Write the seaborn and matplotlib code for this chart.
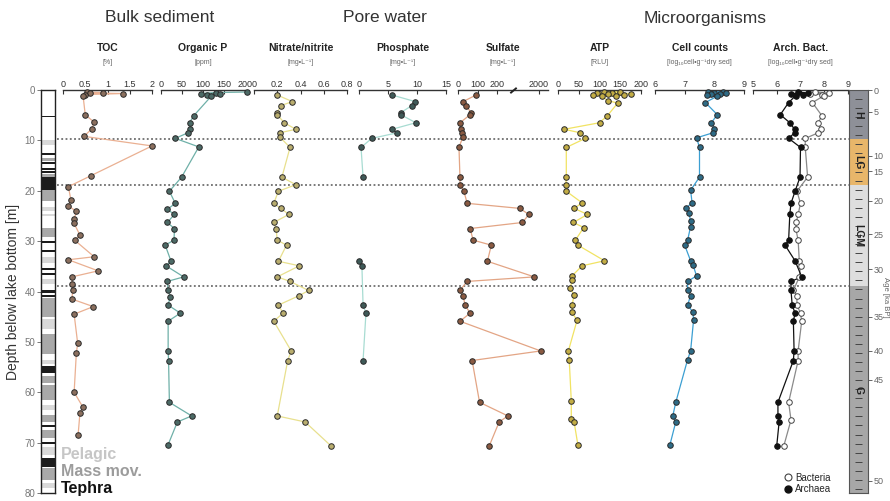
"""Multi-proxy depth profiles of a lake sediment core."""

import matplotlib

matplotlib.use('Agg')

import matplotlib.pyplot as plt
import numpy as np
import pandas as pd
import seaborn as sns
from matplotlib.lines import Line2D
from matplotlib.ticker import FixedLocator, MultipleLocator

# ---------------------------------------------------------------- data
toc_depth = [0.4, 0.5, 0.6, 0.7, 0.9, 1.1, 4.9, 6.4, 7.7, 9.2, 11.1, 17.0, 19.2, 21.9,
             23.0, 24.1, 25.7, 26.5, 28.8, 29.8, 33.1, 33.7, 35.9, 37.1, 38.6, 39.7,
             41.5, 43.0, 44.5, 50.3, 52.2, 60.0, 63.0, 64.2, 68.4]
toc_val = [0.55, 0.9, 0.6, 1.35, 0.5, 0.45, 0.5, 0.7, 0.65, 0.47, 2.0, 0.63, 0.12, 0.18,
           0.12, 0.3, 0.25, 0.25, 0.38, 0.26, 0.7, 0.12, 0.79, 0.2, 0.2, 0.22,
           0.2, 0.68, 0.25, 0.33, 0.3, 0.25, 0.45, 0.38, 0.34]

orgp_depth = [0.4, 0.5, 0.7, 0.8, 1.0, 1.2, 5.1, 6.5, 7.7, 8.5, 9.6, 11.3, 17.3, 20.1,
              22.5, 23.7, 24.7, 26.3, 27.5, 29.8, 30.8, 34.0, 34.9, 37.1, 38.0, 39.8,
              41.0, 42.7, 44.3, 45.9, 51.8, 53.7, 62.0, 64.7, 65.9, 70.4]
orgp_val = [205, 130, 95, 140, 110, 120, 78, 68, 70, 64, 34, 90, 49, 20,
            34, 15, 32, 15, 32, 31, 10, 24, 12, 54, 15, 17,
            22, 17, 46, 17, 17, 18, 20, 73, 39, 17]

nit_depth = [1.0, 2.3, 3.1, 4.5, 4.9, 6.5, 7.8, 8.5, 9.3, 11.4, 17.3, 18.8, 20.1, 22.5,
             23.5, 24.7, 26.3, 27.5, 29.8, 30.8, 34.0, 34.9, 37.1, 38.0, 39.8, 40.8,
             42.7, 44.3, 45.9, 51.8, 53.7, 64.7, 65.9, 70.6]
nit_val = [0.2, 0.33, 0.23, 0.2, 0.2, 0.26, 0.36, 0.22, 0.22, 0.31, 0.24, 0.36, 0.21, 0.17,
           0.23, 0.3, 0.17, 0.19, 0.2, 0.28, 0.21, 0.39, 0.2, 0.31, 0.47, 0.39,
           0.21, 0.25, 0.17, 0.32, 0.29, 0.2, 0.44, 0.66]

phos_depth = [1.0, 2.3, 3.1, 4.5, 4.9, 6.5, 7.8, 8.5, 9.6, 11.4, 17.3,
              34.0, 34.9, 42.7, 44.3, 53.7]
phos_val = [5.7, 9.7, 9.1, 7.2, 7.2, 9.8, 5.7, 6.6, 2.2, 0.35, 0.7,
            0.0, 0.5, 0.7, 1.2, 0.7]
phos_run = [1, 1, 1, 1, 1, 1, 1, 1, 1, 1, 1, 2, 2, 2, 2, 2]

sulf_depth = [1.0, 2.3, 3.1, 4.5, 4.9, 6.5, 7.8, 8.5, 9.3, 11.4, 17.3, 18.8, 20.1, 22.5,
              23.5, 24.7, 26.3, 27.5, 29.8, 30.8, 34.0, 37.1, 38.0, 39.8, 40.8, 42.7,
              44.3, 45.9, 51.8, 53.7, 62.0, 64.7, 65.9, 70.6]
sulf_val = [92, 26, 41, 67, 62, 10, 15, 20, 25, 5, 10, 10, 30, 47,
            950, 1450, 1100, 62, 77, 170, 150, 1750, 46, 10, 26, 36,
            62, 10, 2100, 72, 110, 300, 210, 160]

atp_depth = [0.3, 0.4, 0.5, 0.6, 0.7, 0.8, 0.9, 1.0, 1.1, 1.2, 2.1, 2.6, 5.1, 6.5, 7.8,
             8.5, 9.6, 11.4, 17.3, 18.8, 20.1, 22.4, 23.5, 24.7, 26.3, 27.3, 29.8, 30.8,
             33.9, 34.9, 36.9, 37.8, 39.4, 40.6, 42.7, 44.1, 45.7, 51.8, 53.5, 61.7,
             65.4, 66.0, 70.5]
atp_val = [110, 150, 95, 130, 175, 120, 85, 160, 140, 105, 120, 144, 119, 100, 15,
           54, 66, 20, 20, 19, 20, 58, 39, 71, 37, 62, 42, 48,
           112, 58, 34, 34, 29, 39, 34, 33, 46, 25, 27, 32,
           32, 39, 48]

cell_depth = [0.3, 0.4, 0.5, 0.6, 0.7, 0.8, 1.0, 1.2, 2.5, 4.9, 6.5, 7.7, 8.5, 9.5, 11.4,
              17.3, 19.9, 22.4, 23.4, 24.5, 26.1, 27.1, 29.8, 30.8, 33.9, 34.7, 36.9,
              38.0, 39.8, 40.8, 42.7, 44.1, 45.7, 51.8, 53.5, 62.0, 64.7, 65.9, 70.5]
cell_val = [7.8, 8.3, 8.0, 8.4, 7.9, 8.2, 7.75, 8.1, 7.7, 8.1, 7.9, 8.0, 7.95, 7.4, 7.5,
            7.5, 7.2, 7.25, 7.05, 7.15, 7.2, 7.2, 7.1, 7.0, 7.2, 7.28, 7.4,
            7.1, 7.1, 7.2, 7.1, 7.28, 7.3, 7.2, 7.1, 6.7, 6.6, 6.7, 6.5]

arch_depth = [0.4, 0.6, 0.7, 0.9, 1.1, 2.5, 4.9, 6.5, 7.8, 8.5, 9.6, 11.4, 17.3, 20.1,
              22.5, 24.7, 29.8, 30.8, 33.9, 37.1, 38.0, 39.8, 42.7, 44.3, 45.9, 51.8,
              53.7, 62.0, 64.7, 65.9, 70.6]
arch_val = [6.9, 7.3, 6.6, 7.1, 6.8, 6.5, 6.15, 6.55, 6.75, 6.75, 6.5, 7.0, 6.98, 6.77,
            6.6, 6.55, 6.5, 6.35, 6.77, 7.05, 6.6, 6.6, 6.65, 6.77, 6.7, 6.73,
            6.7, 6.05, 6.05, 6.1, 6.0]

bact_depth = [0.4, 0.6, 0.7, 0.9, 1.1, 2.5, 5.1, 6.5, 7.8, 8.5, 9.6, 11.4, 17.3, 20.1,
              22.5, 24.7, 26.3, 27.5, 29.8, 34.0, 34.9, 37.1, 39.8, 40.8, 42.7, 44.3,
              45.9, 51.8, 53.7, 62.0, 65.5, 70.6]
bact_val = [7.6, 8.2, 7.4, 7.9, 8.0, 7.5, 7.9, 7.75, 7.85, 7.75, 7.2, 7.2, 7.3, 6.85,
            7.0, 6.9, 6.82, 6.8, 6.9, 6.95, 7.0, 6.95, 6.7, 6.85, 6.85, 7.0,
            7.05, 6.9, 6.9, 6.5, 6.6, 6.3]

# lithology log: top, bottom, kind (l = pelagic, m = mass movement, t = tephra)
lith_top = [5.2, 10.0, 12.5, 13.4, 14.2, 15.5, 16.1, 16.6, 17.3, 19.9, 23.2, 24.6, 27.3,
            30.0, 31.8, 33.2, 35.4, 36.3, 37.5, 39.8, 40.6, 41.3, 45.5, 48.5, 53.5,
            54.8, 56.8, 58.6, 62.5, 64.5, 66.6, 67.5, 69.8, 70.8, 73.0, 75.0, 78.0]
lith_bot = [5.4, 11.0, 12.9, 14.0, 14.6, 15.8, 16.4, 17.2, 19.9, 22.0, 24.0, 25.0, 29.2,
            30.4, 32.2, 34.4, 35.8, 36.7, 38.5, 40.2, 41.0, 45.0, 47.5, 52.5, 54.3,
            56.2, 58.2, 61.5, 63.5, 66.0, 66.9, 69.0, 70.2, 72.5, 74.8, 77.5, 79.0]
lith_kind = ['t', 'l', 't', 'm', 't', 't', 't', 'm', 't', 'm', 'l', 'l', 'm',
             't', 't', 'l', 't', 't', 'l', 't', 't', 'm', 'l', 'm', 'l',
             't', 'm', 'm', 'l', 'm', 't', 'm', 't', 'l', 't', 'm', 'l']

# climate periods and age scale
era_names = ['H', 'LG', 'LGM', 'G']
era_top = [0.0, 9.8, 18.8, 39.0]
era_bot = [9.8, 18.8, 39.0, 80.0]
age_labels = [0, 5, 10, 15, 20, 25, 30, 35, 40, 45, 50]
age_depth = [0.0, 4.3, 13.1, 16.1, 22.0, 28.6, 35.6, 45.0, 51.8, 57.5, 77.6]

# ---------------------------------------------------------------- style
sns.set_theme(style='white')
plt.rcParams['font.family'] = ['Liberation Sans', 'DejaVu Sans']

W, H = 890, 501
Y_TOP, Y_BOT = 90, 493
LITH_COL = {'l': '#d9d9d9', 'm': '#a9a9a9', 't': '#1c1c1c'}
ERA_COL = ['#8e9098', '#e8b66a', '#dedede', '#a7a7a7']


def px_box(x0, x1, y0, y1):
    return [x0 / W, 1 - y1 / H, (x1 - x0) / W, (y1 - y0) / H]


def sulf_fwd(v):
    v = np.asarray(v, dtype=float)
    return np.where(v <= 250, v, 250 + (v - 250) * 0.093)


def sulf_inv(u):
    u = np.asarray(u, dtype=float)
    return np.where(u <= 250, u, 250 + (u - 250) / 0.093)


panels = [
    dict(title='TOC', unit='[%]', x=(63, 152), lim=(0, 2), ticks=[0, 0.5, 1, 1.5, 2],
         depth=toc_depth, val=toc_val, line='#eab092', fill='#8b6f5e'),
    dict(title='Organic P', unit='[ppm]', x=(161, 245), lim=(0, 200),
         ticks=[0, 50, 100, 150, 200],
         depth=orgp_depth, val=orgp_val, line='#6fb0a8', fill='#4c6a66'),
    dict(title='Nitrate/nitrite', unit='[mg•L⁻¹]', x=(254, 347), lim=(0, 0.8),
         ticks=[0, 0.2, 0.4, 0.6, 0.8],
         depth=nit_depth, val=nit_val, line='#e8e08e', fill='#b9ad6e'),
    dict(title='Phosphate', unit='[mg•L⁻¹]', x=(359, 446), lim=(0, 15),
         ticks=[0, 5, 10, 15],
         depth=phos_depth, val=phos_val, line='#a8dcd2', fill='#3f5a58'),
    dict(title='Sulfate', unit='[mg•L⁻¹]', x=(458, 548), lim=(0, 2500),
         ticks=[0, 100, 200, 2000],
         depth=sulf_depth, val=sulf_val, line='#e3a585', fill='#8a5a42'),
    dict(title='ATP', unit='[RLU]', x=(558, 641), lim=(0, 200),
         ticks=[0, 50, 100, 150, 200],
         depth=atp_depth, val=atp_val, line='#f1e363', fill='#c3ad45'),
    dict(title='Cell counts', unit='[log₁₀cell•g⁻¹dry sed]', x=(655, 744), lim=(6, 9),
         ticks=[6, 7, 8, 9],
         depth=cell_depth, val=cell_val, line='#3c9fd2', fill='#2e6b86'),
]

fig = plt.figure(figsize=(W / 100, H / 100), dpi=100)

# dotted period boundaries across all panels
ax_bg = fig.add_axes(px_box(57, 849, Y_TOP, Y_BOT))
ax_bg.set_ylim(80, 0)
ax_bg.axis('off')
for d in era_top[1:]:
    ax_bg.axhline(d, color='#555555', lw=1.1, ls=(0, (1.2, 1.6)))


def style_panel(ax, lim, ticks):
    ax.set_ylim(80, 0)
    ax.set_xlim(*lim)
    ax.set_facecolor('none')
    ax.grid(False)
    ax.xaxis.tick_top()
    ax.xaxis.set_major_locator(FixedLocator(ticks))
    ax.set_xticklabels([f'{t:g}' for t in ticks])
    ax.tick_params(axis='x', direction='in', length=3, width=0.8, pad=1,
                   labelsize=6.5, colors='#333333')
    ax.yaxis.set_visible(False)
    for side in ['left', 'right', 'bottom']:
        ax.spines[side].set_visible(False)
    ax.spines['top'].set_color('#333333')
    ax.spines['top'].set_linewidth(1.0)
    ax.set_xlabel('')
    ax.set_ylabel('')


def panel_heading(x0, x1, title, unit):
    xc = (x0 + x1) / 2 / W
    fig.text(xc, 1 - 48 / H, title, ha='center', va='center', fontsize=7.5,
             fontweight='bold', color='#222222')
    fig.text(xc, 1 - 63 / H, unit, ha='center', va='center', fontsize=5,
             color='#666666')


for p in panels:
    ax = fig.add_axes(px_box(p['x'][0], p['x'][1], Y_TOP, Y_BOT))
    df = pd.DataFrame({'depth': p['depth'], 'value': p['val']})
    if p['title'] == 'Phosphate':
        df['run'] = phos_run
        sns.lineplot(data=df, x='value', y='depth', units='run', estimator=None,
                     sort=False, color=p['line'], lw=0.9, ax=ax)
    else:
        sns.lineplot(data=df, x='value', y='depth', estimator=None, sort=False,
                     color=p['line'], lw=0.9, ax=ax)
    sns.scatterplot(data=df, x='value', y='depth', color=p['fill'],
                    edgecolor='#2a2a2a', s=16, linewidth=0.7, zorder=3,
                    clip_on=False, ax=ax)
    if p['title'] == 'Sulfate':
        ax.set_xscale('function', functions=(sulf_fwd, sulf_inv))
        ax.plot([600], [0], marker=(2, 0, -50), ms=6, mew=1.4, color='#222222',
                clip_on=False, zorder=4)
    style_panel(ax, p['lim'], p['ticks'])
    panel_heading(p['x'][0], p['x'][1], p['title'], p['unit'])

# archaea / bacteria panel
ax_ab = fig.add_axes(px_box(753, 848, Y_TOP, Y_BOT))
df_a = pd.DataFrame({'depth': arch_depth, 'value': arch_val})
df_b = pd.DataFrame({'depth': bact_depth, 'value': bact_val})
sns.lineplot(data=df_b, x='value', y='depth', estimator=None, sort=False,
             color='#8a8a8a', lw=0.9, ax=ax_ab)
sns.lineplot(data=df_a, x='value', y='depth', estimator=None, sort=False,
             color='#111111', lw=0.9, ax=ax_ab)
sns.scatterplot(data=df_b, x='value', y='depth', color='white', edgecolor='#444444',
                s=16, linewidth=0.7, zorder=3, clip_on=False, ax=ax_ab)
sns.scatterplot(data=df_a, x='value', y='depth', color='#111111', edgecolor='#111111',
                s=16, linewidth=0.7, zorder=4, clip_on=False, ax=ax_ab)
style_panel(ax_ab, (5, 9), [5, 6, 7, 8, 9])
panel_heading(753, 848, 'Arch. Bact.', '[log₁₀cell•g⁻¹dry sed]')

handles = [Line2D([], [], ls='', marker='o', ms=5, mfc='white', mec='#444444', mew=0.8),
           Line2D([], [], ls='', marker='o', ms=5, mfc='#111111', mec='#111111')]
fig.legend(handles, ['Bacteria', 'Archaea'], loc='lower right',
           bbox_to_anchor=(838 / W, 0.0), frameon=False, fontsize=7,
           handlelength=0.8, handletextpad=0.3, labelspacing=0.15, borderpad=0.2)

# lithology column
ax_l = fig.add_axes(px_box(41, 55, Y_TOP, Y_BOT))
ax_l.set_facecolor('white')
for top, bot, kind in zip(lith_top, lith_bot, lith_kind):
    ax_l.axhspan(top, bot, color=LITH_COL[kind], lw=0)
ax_l.set_ylim(80, 0)
ax_l.set_xlim(0, 1)
ax_l.set_xticks([])
ax_l.yaxis.set_major_locator(MultipleLocator(10))
ax_l.tick_params(axis='y', left=True, length=3, width=0.7, pad=1, labelsize=7,
                 colors='#777777')
for s in ax_l.spines.values():
    s.set_color('#222222')
    s.set_linewidth(1.0)
ax_l.grid(False)
ax_l.set_ylabel('Depth below lake bottom [m]', fontsize=10, color='#333333',
                labelpad=3)

for txt, col, ypx in [('Pelagic', '#c6c6c6', 455), ('Mass mov.', '#9c9c9c', 472),
                      ('Tephra', '#111111', 489)]:
    fig.text(61 / W, 1 - ypx / H, txt, ha='left', va='center', fontsize=11.5,
             fontweight='bold', color=col)

# period / age column
ax_t = fig.add_axes(px_box(849, 868, Y_TOP, Y_BOT))
for name, top, bot, col in zip(era_names, era_top, era_bot, ERA_COL):
    ax_t.axhspan(top, bot, color=col, lw=0)
    ax_t.text(0.5, (top + bot) / 2, name, ha='center', va='center', rotation=-90,
              fontsize=7.5, fontweight='bold', color='#222222',
              transform=ax_t.get_yaxis_transform())
ax_t.set_ylim(80, 0)
ax_t.set_xlim(0, 1)
for d in MultipleLocator(1.8).tick_values(1, 79):
    if 0.5 < d < 79.5:
        ax_t.hlines(d, 0.3, 0.7, color='#444444', lw=0.7)
ax_t.set_xticks([])
ax_t.yaxis.tick_right()
ax_t.yaxis.set_major_locator(FixedLocator(age_depth))
ax_t.set_yticklabels([str(a) for a in age_labels])
ax_t.tick_params(axis='y', right=True, length=3, width=0.7, pad=1, labelsize=6.5,
                 colors='#666666')
for s in ax_t.spines.values():
    s.set_color('#555555')
    s.set_linewidth(0.8)
ax_t.grid(False)
fig.text(886 / W, 1 - 297 / H, 'Age [ka BP]', rotation=-90, ha='center',
         va='center', fontsize=5.5, color='#666666')

# group headings
for txt, xpx in [('Bulk sediment', 160), ('Pore water', 385), ('Microorganisms', 705)]:
    fig.text(xpx / W, 1 - 18 / H, txt, ha='center', va='center', fontsize=12.5,
             color='#333333')

fig.savefig('out.png', dpi=100)
plt.close(fig)
